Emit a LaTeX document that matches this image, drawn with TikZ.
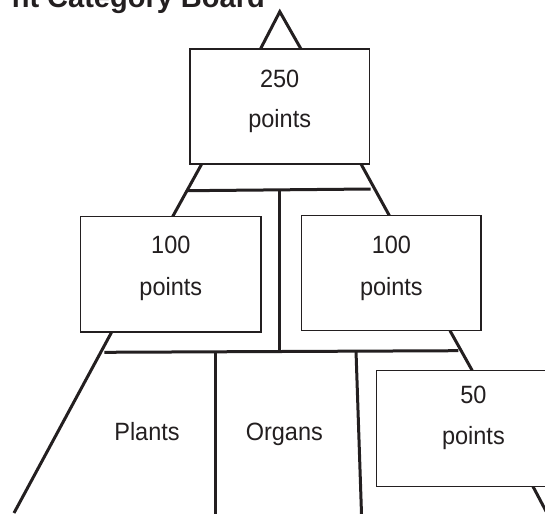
\documentclass[tikz,border=0pt]{standalone}
\usepackage{fontspec}
\setmainfont{Liberation Sans}
\newfontfamily\labelfont[FakeStretch=0.94]{Liberation Sans}
\definecolor{ink}{HTML}{231F20}
\tikzset{
  board/.style={draw=ink, line width=1.5pt, fill=white, inner sep=0pt, outer sep=0pt},
  leg/.style={draw=ink, line width=3pt},
  word/.style={anchor=base, inner sep=0pt, text=ink, font=\labelfont\fontsize{25}{25}\selectfont},
  heading/.style={anchor=base east, inner sep=0pt, text=ink, font=\bfseries\fontsize{29}{29}\selectfont}
}
\begin{document}
\begin{tikzpicture}[x=1pt, y=-1pt]
  \useasboundingbox (0,0) rectangle (545,513);
  \clip (0,0) rectangle (545,513);

  % heading, mostly cut off by the top edge
  \node[heading] (title) at (265,8) {nt Category Board};

  % anchor points of the frame
  \coordinate (apex) at (279.8,11.7);
  \coordinate (apexL) at (260.7,48.5);
  \coordinate (apexR) at (300.7,48.5);
  \coordinate (topLegL) at (201.7,164);
  \coordinate (topLegR) at (361,164);
  \coordinate (midTopL) at (172.7,216.5);
  \coordinate (midTopR) at (389.3,215.5);
  \coordinate (barAL) at (188,190.7);
  \coordinate (barAR) at (370.7,189);
  \coordinate (postTop) at (279.5,190);
  \coordinate (postBot) at (279.5,352);
  \coordinate (barBL) at (104.3,352.3);
  \coordinate (barBR) at (458.3,350.7);
  \coordinate (midLegL) at (111.7,332);
  \coordinate (footL) at (14,513);
  \coordinate (midLegR) at (450,330.7);
  \coordinate (lowTopR) at (472.3,370.7);
  \coordinate (railA) at (215,352.3);
  \coordinate (railAfoot) at (215,514);
  \coordinate (railB) at (356,351);
  \coordinate (railBfoot) at (361.5,514);
  \coordinate (lowLeg) at (533,486.5);
  \coordinate (footR) at (547.5,514);

  % frame lines
  \draw[leg, line join=miter] (apexL) -- (apex) -- (apexR);
  \draw[leg] (topLegL) -- (midTopL);
  \draw[leg] (topLegR) -- (midTopR);
  \draw[leg] (barAL) -- (barAR);
  \draw[leg] (postTop) -- (postBot);
  \draw[leg] (barBL) -- (barBR);
  \draw[leg] (midLegL) -- (footL);
  \draw[leg] (midLegR) -- (lowTopR);
  \draw[leg] (railA) -- (railAfoot);
  \draw[leg] (railB) -- (railBfoot);
  \draw[leg] (lowLeg) -- (footR);

  % point boxes
  \node[board, minimum width=179.3pt, minimum height=115pt] (top) at (279.7,106.5) {};
  \node[board, minimum width=180.3pt, minimum height=115.3pt] (left) at (170.85,274.35) {};
  \node[board, minimum width=179.3pt, minimum height=115pt] (right) at (391.35,273.2) {};
  \node[board, minimum width=193.3pt, minimum height=115.8pt] (low) at (473.35,428.6) {};

  % box labels
  \node[word] (t250) at (279.7,87.3) {250};
  \node[word] (t250p) at (279.7,127.7) {points};
  \node[word] (tl100) at (170.85,253.3) {100};
  \node[word] (tl100p) at (170.85,295) {points};
  \node[word] (tr100) at (391.35,253.3) {100};
  \node[word] (tr100p) at (391.35,295) {points};
  \node[word] (t50) at (473.4,403.3) {50};
  \node[word] (t50p) at (473.4,444.3) {points};

  % category names between the rails
  \node[word] (plants) at (147,440.7) {Plants};
  \node[word] (organs) at (284.3,440.7) {Organs};
\end{tikzpicture}
\end{document}
